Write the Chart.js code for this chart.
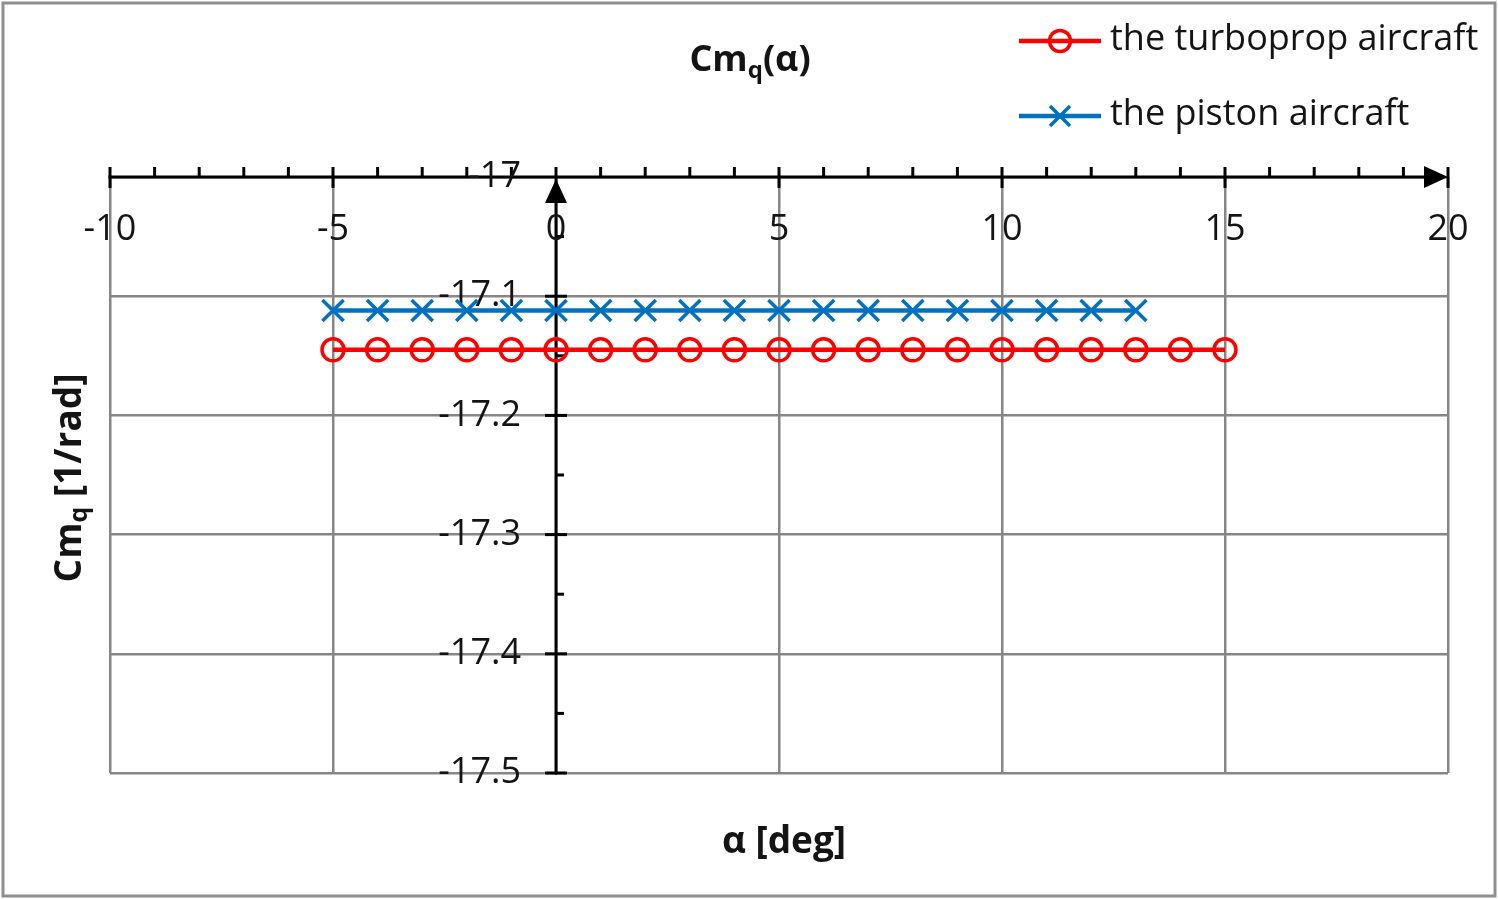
<!DOCTYPE html>
<html>
<head>
<meta charset="utf-8">
<script src="https://cdn.jsdelivr.net/npm/chart.js@4/dist/chart.umd.min.js"></script>
<style>
  html, body { margin: 0; padding: 0; background: #fff; }
  #wrap { width: 1498px; height: 899px; position: relative; }
</style>
</head>
<body>
<div id="wrap"><canvas id="c" width="1498" height="899"></canvas></div>
<script>
// ---- data ----
const alphaTurboprop = [-5, -4, -3, -2, -1, 0, 1, 2, 3, 4, 5, 6, 7, 8, 9, 10, 11, 12, 13, 14, 15];
const cmqTurboprop = [-17.145, -17.145, -17.145, -17.145, -17.145, -17.145, -17.145, -17.145, -17.145, -17.145, -17.145,
                      -17.145, -17.145, -17.145, -17.145, -17.145, -17.145, -17.145, -17.145, -17.145, -17.145];
const alphaPiston = [-5, -4, -3, -2, -1, 0, 1, 2, 3, 4, 5, 6, 7, 8, 9, 10, 11, 12, 13];
const cmqPiston = [-17.112, -17.112, -17.112, -17.112, -17.112, -17.112, -17.112, -17.112, -17.112, -17.112,
                   -17.112, -17.112, -17.112, -17.112, -17.112, -17.112, -17.112, -17.112, -17.112];
const seriesNames = ['the turboprop aircraft', 'the piston aircraft'];
const xTickValues = [-10, -5, 0, 5, 10, 15, 20];
const xTickLabels = ['-10', '-5', '0', '5', '10', '15', '20'];
const yTickValues = [-17, -17.1, -17.2, -17.3, -17.4, -17.5];
const yTickLabels = ['-17', '-17.1', '-17.2', '-17.3', '-17.4', '-17.5'];
const chartTitle = [{t: 'Cm'}, {t: 'q', sub: true}, {t: '(α)'}];
const xTitle = [{t: 'α [deg]'}];
const yTitle = [{t: 'Cm'}, {t: 'q', sub: true}, {t: ' [1/rad]'}];

const RED = '#FF0000', BLUE = '#0070C0';
const FONT = '"Open Sans", "Noto Sans", sans-serif';
const TEXT = '#141414';

function toPts(xs, ys) { return xs.map((x, i) => ({x: x, y: ys[i]})); }

function richWidth(ctx, parts, size, bold) {
  let w = 0;
  parts.forEach(p => {
    ctx.font = (bold ? 'bold ' : '') + (p.sub ? Math.round(size * 0.68) : size) + 'px ' + FONT;
    w += ctx.measureText(p.t).width;
  });
  return w;
}
function drawRich(ctx, parts, cx, cy, size, bold) {
  const w = richWidth(ctx, parts, size, bold);
  let x = cx - w / 2;
  ctx.textAlign = 'left';
  ctx.textBaseline = 'middle';
  parts.forEach(p => {
    const s = p.sub ? Math.round(size * 0.68) : size;
    ctx.font = (bold ? 'bold ' : '') + s + 'px ' + FONT;
    ctx.fillText(p.t, x, p.sub ? cy + size * 0.28 : cy);
    x += ctx.measureText(p.t).width;
  });
}

const decorPlugin = {
  id: 'decor',
  beforeDraw(chart) {
    const ctx = chart.ctx;
    ctx.save();
    ctx.fillStyle = '#fff';
    ctx.fillRect(0, 0, chart.width, chart.height);
    ctx.strokeStyle = '#8f8f8f';
    ctx.lineWidth = 3;
    ctx.strokeRect(3, 3, chart.width - 6, chart.height - 6);
    ctx.restore();
  },
  beforeDatasetsDraw(chart) {
    const ctx = chart.ctx;
    const xs = chart.scales.x, ys = chart.scales.y;
    const x0 = xs.getPixelForValue(0);
    const yAx = ys.getPixelForValue(-17);
    const left = xs.getPixelForValue(xs.min), right = xs.getPixelForValue(xs.max);
    const bottom = ys.getPixelForValue(ys.min);
    ctx.save();
    ctx.strokeStyle = '#000';
    ctx.fillStyle = '#000';
    ctx.lineWidth = 3;
    ctx.lineCap = 'butt';
    // x axis line
    ctx.beginPath(); ctx.moveTo(left - 1.5, yAx); ctx.lineTo(right - 10, yAx); ctx.stroke();
    // x ticks (minor every 1, major every 5)
    for (let v = xs.min; v <= xs.max + 1e-9; v += 1) {
      const px = xs.getPixelForValue(v);
      const major = Math.abs(v % 5) < 1e-9;
      ctx.beginPath(); ctx.moveTo(px, yAx - 10); ctx.lineTo(px, major ? yAx + 11 : yAx); ctx.stroke();
    }
    // x arrow
    ctx.beginPath(); ctx.moveTo(right, yAx); ctx.lineTo(right - 24, yAx - 11); ctx.lineTo(right - 24, yAx + 11); ctx.closePath(); ctx.fill();
    // y axis line
    ctx.beginPath(); ctx.moveTo(x0, bottom + 1.5); ctx.lineTo(x0, yAx + 12); ctx.stroke();
    // y ticks
    for (let k = 1; k <= 10; k++) {
      const v = ys.max - k * 0.05;
      const py = ys.getPixelForValue(v);
      ctx.beginPath();
      if (k % 2 === 0) { ctx.moveTo(x0 - 11, py); ctx.lineTo(x0 + 11, py); }
      else { ctx.moveTo(x0, py); ctx.lineTo(x0 + 8, py); }
      ctx.stroke();
    }
    // y arrow
    ctx.beginPath(); ctx.moveTo(x0, yAx + 2); ctx.lineTo(x0 - 11, yAx + 26); ctx.lineTo(x0 + 11, yAx + 26); ctx.closePath(); ctx.fill();

    // tick labels
    ctx.fillStyle = TEXT;
    ctx.font = '36px ' + FONT;
    ctx.textBaseline = 'middle';
    ctx.textAlign = 'center';
    xTickValues.forEach((v, i) => {
      ctx.fillText(xTickLabels[i], xs.getPixelForValue(v), yAx + 53);
    });
    ctx.textAlign = 'right';
    yTickValues.forEach((v, i) => {
      ctx.fillText(yTickLabels[i], x0 - 35, ys.getPixelForValue(v));
    });
    ctx.restore();
  },
  afterDraw(chart) {
    const ctx = chart.ctx;
    ctx.save();
    ctx.fillStyle = TEXT;
    // titles
    drawRich(ctx, chartTitle, 750, 61, 36, true);
    drawRich(ctx, xTitle, 784, 842, 37, true);
    ctx.save();
    ctx.translate(70, 478);
    ctx.rotate(-Math.PI / 2);
    drawRich(ctx, yTitle, 0, 0, 37, true);
    ctx.restore();
    // legend
    const items = [
      {name: seriesNames[0], color: RED, style: 'circle', y: 41},
      {name: seriesNames[1], color: BLUE, style: 'cross', y: 116}
    ];
    items.forEach(it => {
      ctx.strokeStyle = it.color;
      ctx.lineWidth = 4.5;
      ctx.beginPath(); ctx.moveTo(1019, it.y); ctx.lineTo(1101, it.y); ctx.stroke();
      ctx.lineWidth = 3.5;
      if (it.style === 'circle') {
        ctx.beginPath(); ctx.arc(1060, it.y, 10.5, 0, Math.PI * 2); ctx.stroke();
      } else {
        const r = 10;
        ctx.beginPath();
        ctx.moveTo(1060 - r, it.y - r); ctx.lineTo(1060 + r, it.y + r);
        ctx.moveTo(1060 + r, it.y - r); ctx.lineTo(1060 - r, it.y + r);
        ctx.stroke();
      }
      ctx.fillStyle = TEXT;
      ctx.font = '36px ' + FONT;
      ctx.textAlign = 'left';
      ctx.textBaseline = 'middle';
      ctx.fillText(it.name, 1110, it.y - 1);
    });
    ctx.restore();
  }
};

new Chart(document.getElementById('c'), {
  type: 'scatter',
  data: {
    datasets: [
      {
        label: seriesNames[0],
        data: toPts(alphaTurboprop, cmqTurboprop),
        showLine: true,
        borderColor: RED,
        borderWidth: 4.5,
        pointStyle: 'circle',
        pointRadius: 11,
        pointBorderWidth: 3.5,
        pointBorderColor: RED,
        pointBackgroundColor: 'rgba(0,0,0,0)',
        order: 2
      },
      {
        label: seriesNames[1],
        data: toPts(alphaPiston, cmqPiston),
        showLine: true,
        borderColor: BLUE,
        borderWidth: 4.5,
        pointStyle: 'crossRot',
        pointRadius: 15,
        pointBorderWidth: 3.5,
        pointBorderColor: BLUE,
        pointBackgroundColor: BLUE,
        order: 1
      }
    ]
  },
  options: {
    responsive: false,
    animation: false,
    devicePixelRatio: 1,
    layout: { padding: { left: 110, right: 50, top: 177, bottom: 126 } },
    plugins: { legend: { display: false }, title: { display: false }, tooltip: { enabled: false } },
    scales: {
      x: {
        type: 'linear', min: -10, max: 20,
        afterBuildTicks: s => { s.ticks = xTickValues.map(v => ({value: v})); },
        ticks: { display: false },
        border: { display: false },
        grid: { color: '#868686', lineWidth: 2.5, drawTicks: false }
      },
      y: {
        type: 'linear', min: -17.5, max: -17,
        afterBuildTicks: s => { s.ticks = yTickValues.map(v => ({value: v})); },
        ticks: { display: false },
        border: { display: false },
        grid: { color: '#868686', lineWidth: 2.5, drawTicks: false }
      }
    }
  },
  plugins: [decorPlugin]
});
</script>
</body>
</html>
